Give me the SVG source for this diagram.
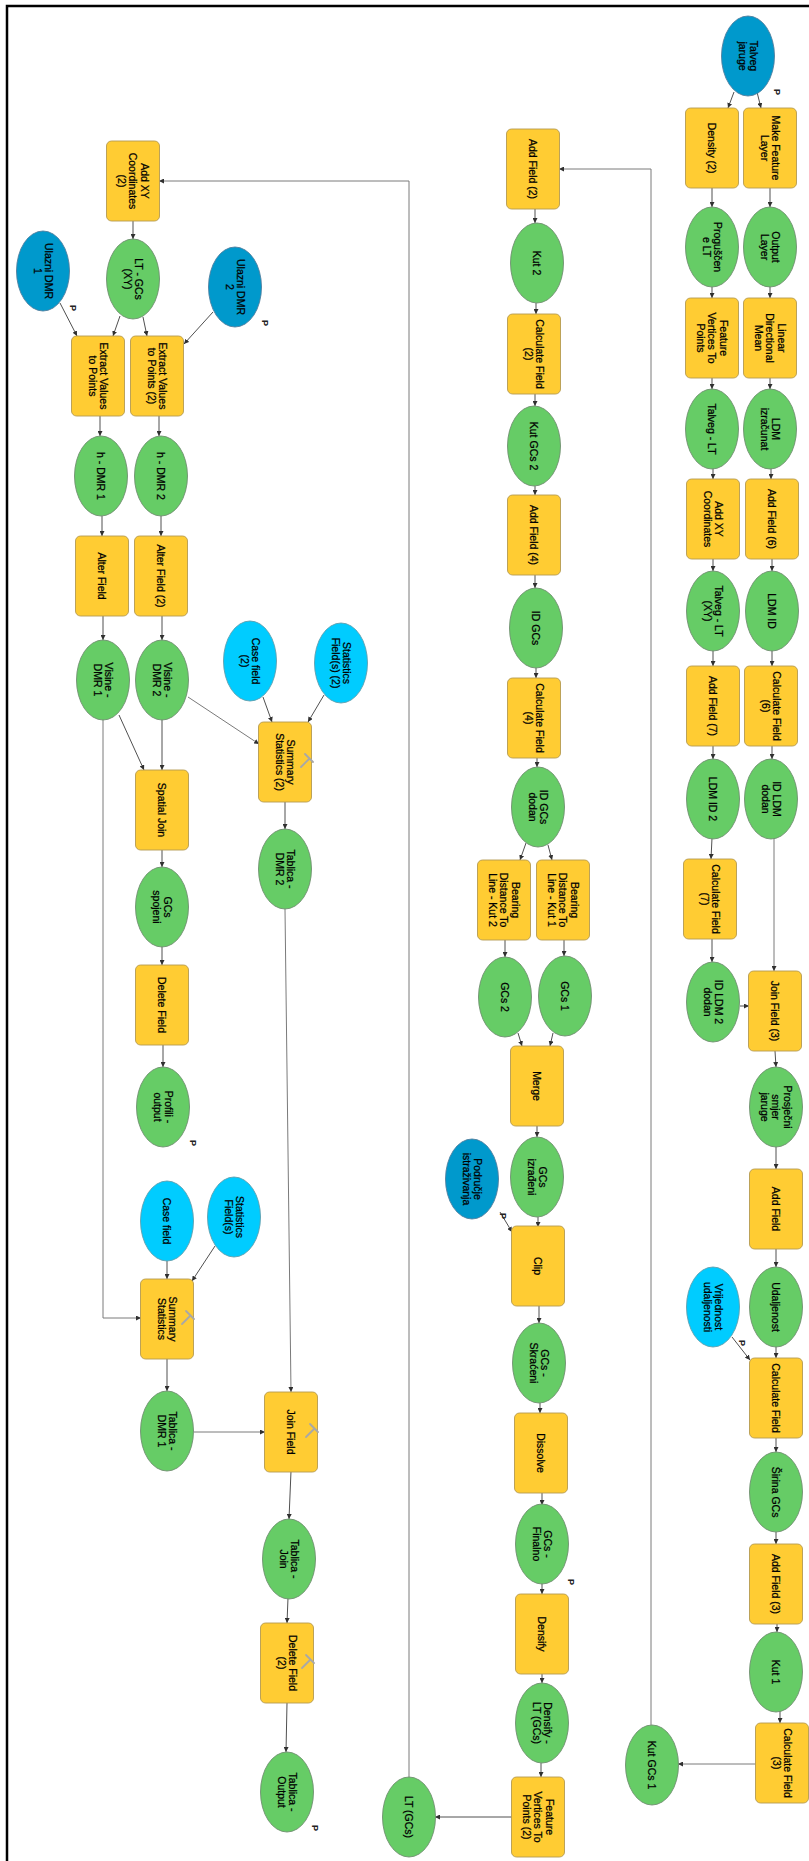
<svg xmlns="http://www.w3.org/2000/svg" width="809" height="1861" viewBox="0 0 809 1861">
<style>
.tool{fill:#FFCC33;stroke:#B49A50;stroke-width:0.9}
.data{fill:#66CC66;stroke:#6E8E6E;stroke-width:0.9}
.inp{fill:#0099CC;stroke:#4E7E9E;stroke-width:0.9}
.par{fill:#00CCFF;stroke:#5E9EAE;stroke-width:0.9}
.lbl{font-family:"Liberation Sans",Arial,sans-serif;font-size:10.5px;fill:#000;stroke:#000;stroke-width:0.25;text-anchor:middle}
.pl{font-family:"Liberation Sans",Arial,sans-serif;font-size:9px;font-weight:bold;fill:#222;text-anchor:middle}
.c path{fill:none;stroke:#505050;stroke-width:1;marker-end:url(#ah)}
.c path.g{stroke:#7a7a7a}
.ham{fill:none;stroke:#A8A8A8;stroke-width:1.8;stroke-linecap:round}
</style>
<defs>
<marker id="ah" viewBox="0 0 6 6" refX="6" refY="3" markerWidth="5" markerHeight="5" markerUnits="userSpaceOnUse" orient="auto">
<path d="M0,0 L6,3 L0,6 z" fill="#303030"/>
</marker>
</defs>
<rect width="809" height="1861" fill="#fff"/>
<path d="M7,1861 V6 H809" fill="none" stroke="#000" stroke-width="2.5"/>

<g class="c" id="connectors">
<path d="M734,92 L728,108"/>
<path d="M757,92 L761,108"/>
<path d="M712,188 V207"/>
<path d="M770,188 V207"/>
<path d="M712,287 V298"/>
<path d="M770,287 V298"/>
<path d="M712,378 V389"/>
<path d="M770,378 V389"/>
<path d="M713,468 V479"/>
<path d="M771,468 V479"/>
<path d="M713,559 V571"/>
<path d="M772,559 V571"/>
<path d="M713,650 V666"/>
<path d="M772,650 V666"/>
<path d="M713,746 V759"/>
<path d="M772,746 V759"/>
<path d="M712,838 L711,859"/>
<path class="g" d="M774,838 V971"/>
<path d="M712,939 V962"/>
<path d="M740,1006 H749"/>
<path d="M775,1051 L776,1067"/>
<path d="M776,1147 V1169"/>
<path d="M776,1249 V1267"/>
<path d="M776,1346 V1358"/>
<path d="M732,1337 L750,1360"/>
<path d="M776,1438 V1452"/>
<path d="M776,1532 V1544"/>
<path d="M777,1624 V1632"/>
<path d="M780,1711 V1723"/>
<path class="g" d="M756,1764 H678"/>
<path class="g" d="M651,1725 V169 H559"/>
<path d="M535,209 V223"/>
<path d="M536,303 V314"/>
<path d="M535,394 V406"/>
<path d="M535,486 V495"/>
<path d="M535,575 V588"/>
<path d="M536,668 V678"/>
<path d="M537,758 V767"/>
<path d="M526,843 L520,860"/>
<path d="M548,845 L552,860"/>
<path d="M505,939 V957"/>
<path d="M564,940 V956"/>
<path d="M518,1033 L522,1046"/>
<path d="M553,1033 L550,1046"/>
<path d="M537,1126 V1137"/>
<path d="M538,1217 V1227"/>
<path d="M500,1212 L512,1232"/>
<path d="M539,1306 V1323"/>
<path d="M540,1403 V1413"/>
<path d="M542,1493 V1505"/>
<path d="M542,1583 V1594"/>
<path d="M542,1674 V1683"/>
<path d="M541,1763 V1777"/>
<path d="M512,1817 H435"/>
<path class="g" d="M409,1778 V181 H159"/>
<path d="M133,221 V239"/>
<path d="M60,303 L77,336"/>
<path d="M120,316 L113,336"/>
<path d="M143,317 L147,336"/>
<path d="M213,312 L184,344"/>
<path d="M100,416 V436"/>
<path d="M159,416 V436"/>
<path d="M102,516 V536"/>
<path d="M161,516 V536"/>
<path d="M103,615 V640"/>
<path d="M162,615 V640"/>
<path d="M119,715 L144,770"/>
<path d="M162,719 V770"/>
<path class="g" d="M188,697 L259,744"/>
<path d="M263,697 L272,722"/>
<path d="M324,695 L308,722"/>
<path d="M285,802 V829"/>
<path d="M162,850 V867"/>
<path d="M162,946 V965"/>
<path d="M163,1045 V1067"/>
<path class="g" d="M103,719 V1318 H141"/>
<path d="M167,1261 V1279"/>
<path d="M215,1246 L192,1281"/>
<path class="g" d="M285,909 L291,1392"/>
<path d="M167,1359 V1391"/>
<path class="g" d="M194,1432 H265"/>
<path d="M291,1471 L289,1519"/>
<path d="M288,1598 L287,1623"/>
<path d="M287,1703 L286,1752"/>
</g>

<!-- Right column -->
<g id="talveg-jaruge" transform="translate(748,56)"><ellipse class="inp" rx="26.5" ry="40"/><text class="lbl" transform="rotate(90)"><tspan x="0" y="-2">Talveg</tspan><tspan x="0" y="9.5">jaruge</tspan></text></g>
<g id="density-2" transform="translate(712,148)"><rect class="tool" x="-26.5" y="-40" width="53" height="80" rx="5"/><text class="lbl" transform="rotate(90)"><tspan x="0" y="3.7">Density (2)</tspan></text></g>
<g id="make-feature-layer" transform="translate(770,148)"><rect class="tool" x="-26.5" y="-40" width="53" height="80" rx="5"/><text class="lbl" transform="rotate(90)"><tspan x="0" y="-2">Make Feature</tspan><tspan x="0" y="9.5">Layer</tspan></text></g>
<g id="progusceni-lt" transform="translate(712,247)"><ellipse class="data" rx="26.5" ry="40"/><text class="lbl" transform="rotate(90)"><tspan x="0" y="-2">Proguščen</tspan><tspan x="0" y="9.5">e LT</tspan></text></g>
<g id="output-layer" transform="translate(770,247)"><ellipse class="data" rx="26.5" ry="40"/><text class="lbl" transform="rotate(90)"><tspan x="0" y="-2">Output</tspan><tspan x="0" y="9.5">Layer</tspan></text></g>
<g id="fvtp" transform="translate(712,338)"><rect class="tool" x="-26.5" y="-40" width="53" height="80" rx="5"/><text class="lbl" transform="rotate(90)"><tspan x="0" y="-7.8">Feature</tspan><tspan x="0" y="3.7">Vertices To</tspan><tspan x="0" y="15.2">Points</tspan></text></g>
<g id="ldm" transform="translate(770,338)"><rect class="tool" x="-26.5" y="-40" width="53" height="80" rx="5"/><text class="lbl" transform="rotate(90)"><tspan x="0" y="-7.8">Linear</tspan><tspan x="0" y="3.7">Directional</tspan><tspan x="0" y="15.2">Mean</tspan></text></g>
<g id="talveg-lt" transform="translate(712,429)"><ellipse class="data" rx="26.5" ry="40"/><text class="lbl" transform="rotate(90)"><tspan x="0" y="3.7">Talveg - LT</tspan></text></g>
<g id="ldm-izracunat" transform="translate(770,429)"><ellipse class="data" rx="26.5" ry="40"/><text class="lbl" transform="rotate(90)"><tspan x="0" y="-2">LDM</tspan><tspan x="0" y="9.5">izračunat</tspan></text></g>
<g id="add-xy" transform="translate(713,519)"><rect class="tool" x="-26.5" y="-40" width="53" height="80" rx="5"/><text class="lbl" transform="rotate(90)"><tspan x="0" y="-2">Add XY</tspan><tspan x="0" y="9.5">Coordinates</tspan></text></g>
<g id="add-field-6" transform="translate(772,519)"><rect class="tool" x="-26.5" y="-40" width="53" height="80" rx="5"/><text class="lbl" transform="rotate(90)"><tspan x="0" y="3.7">Add Field (6)</tspan></text></g>
<g id="talveg-lt-xy" transform="translate(713,611)"><ellipse class="data" rx="26.5" ry="40"/><text class="lbl" transform="rotate(90)"><tspan x="0" y="-2">Talveg - LT</tspan><tspan x="0" y="9.5">(XY)</tspan></text></g>
<g id="ldm-id" transform="translate(772,611)"><ellipse class="data" rx="26.5" ry="40"/><text class="lbl" transform="rotate(90)"><tspan x="0" y="3.7">LDM ID</tspan></text></g>
<g id="add-field-7" transform="translate(713,706)"><rect class="tool" x="-26.5" y="-40" width="53" height="80" rx="5"/><text class="lbl" transform="rotate(90)"><tspan x="0" y="3.7">Add Field (7)</tspan></text></g>
<g id="calc-field-6" transform="translate(771,706)"><rect class="tool" x="-26.5" y="-40" width="53" height="80" rx="5"/><text class="lbl" transform="rotate(90)"><tspan x="0" y="-2">Calculate Field</tspan><tspan x="0" y="9.5">(6)</tspan></text></g>
<g id="ldm-id-2" transform="translate(713,799)"><ellipse class="data" rx="26.5" ry="40"/><text class="lbl" transform="rotate(90)"><tspan x="0" y="3.7">LDM ID 2</tspan></text></g>
<g id="id-ldm-dodan" transform="translate(771,799)"><ellipse class="data" rx="26.5" ry="40"/><text class="lbl" transform="rotate(90)"><tspan x="0" y="-2">ID LDM</tspan><tspan x="0" y="9.5">dodan</tspan></text></g>
<g id="calc-field-7" transform="translate(710,899)"><rect class="tool" x="-26.5" y="-40" width="53" height="80" rx="5"/><text class="lbl" transform="rotate(90)"><tspan x="0" y="-2">Calculate Field</tspan><tspan x="0" y="9.5">(7)</tspan></text></g>
<g id="id-ldm-2-dodan" transform="translate(713,1002)"><ellipse class="data" rx="26.5" ry="40"/><text class="lbl" transform="rotate(90)"><tspan x="0" y="-2">ID LDM 2</tspan><tspan x="0" y="9.5">dodan</tspan></text></g>
<g id="join-field-3" transform="translate(775,1011)"><rect class="tool" x="-26.5" y="-40" width="53" height="80" rx="5"/><text class="lbl" transform="rotate(90)"><tspan x="0" y="3.7">Join Field (3)</tspan></text></g>
<g id="prosjecni" transform="translate(776,1107)"><ellipse class="data" rx="26.5" ry="40"/><text class="lbl" transform="rotate(90)"><tspan x="0" y="-7.8">Prosječni</tspan><tspan x="0" y="3.7">smjer</tspan><tspan x="0" y="15.2">jaruge</tspan></text></g>
<g id="add-field" transform="translate(776,1209)"><rect class="tool" x="-26.5" y="-40" width="53" height="80" rx="5"/><text class="lbl" transform="rotate(90)"><tspan x="0" y="3.7">Add Field</tspan></text></g>
<g id="udaljenost" transform="translate(776,1307)"><ellipse class="data" rx="26.5" ry="40"/><text class="lbl" transform="rotate(90)"><tspan x="0" y="3.7">Udaljenost</tspan></text></g>
<g id="vrijednost" transform="translate(713,1307)"><ellipse class="par" rx="26.5" ry="40"/><text class="lbl" transform="rotate(90)"><tspan x="0" y="-2">Vrijednost</tspan><tspan x="0" y="9.5">udaljenosti</tspan></text></g>
<g id="calc-field" transform="translate(776,1398)"><rect class="tool" x="-26.5" y="-40" width="53" height="80" rx="5"/><text class="lbl" transform="rotate(90)"><tspan x="0" y="3.7">Calculate Field</tspan></text></g>
<g id="sirina-gcs" transform="translate(776,1492)"><ellipse class="data" rx="26.5" ry="40"/><text class="lbl" transform="rotate(90)"><tspan x="0" y="3.7">Širina GCs</tspan></text></g>
<g id="add-field-3" transform="translate(776,1584)"><rect class="tool" x="-26.5" y="-40" width="53" height="80" rx="5"/><text class="lbl" transform="rotate(90)"><tspan x="0" y="3.7">Add Field (3)</tspan></text></g>
<g id="kut-1" transform="translate(776,1672)"><ellipse class="data" rx="26.5" ry="40"/><text class="lbl" transform="rotate(90)"><tspan x="0" y="3.7">Kut 1</tspan></text></g>
<g id="calc-field-3" transform="translate(782,1763)"><rect class="tool" x="-26.5" y="-40" width="53" height="80" rx="5"/><text class="lbl" transform="rotate(90)"><tspan x="0" y="-2">Calculate Field</tspan><tspan x="0" y="9.5">(3)</tspan></text></g>
<g id="kut-gcs-1" transform="translate(652,1765)"><ellipse class="data" rx="26.5" ry="40"/><text class="lbl" transform="rotate(90)"><tspan x="0" y="3.7">Kut GCs 1</tspan></text></g>

<!-- Middle column -->
<g id="add-field-2" transform="translate(533,169)"><rect class="tool" x="-26.5" y="-40" width="53" height="80" rx="5"/><text class="lbl" transform="rotate(90)"><tspan x="0" y="3.7">Add Field (2)</tspan></text></g>
<g id="kut-2" transform="translate(537,263)"><ellipse class="data" rx="26.5" ry="40"/><text class="lbl" transform="rotate(90)"><tspan x="0" y="3.7">Kut 2</tspan></text></g>
<g id="calc-field-2" transform="translate(534,354)"><rect class="tool" x="-26.5" y="-40" width="53" height="80" rx="5"/><text class="lbl" transform="rotate(90)"><tspan x="0" y="-2">Calculate Field</tspan><tspan x="0" y="9.5">(2)</tspan></text></g>
<g id="kut-gcs-2" transform="translate(534,446)"><ellipse class="data" rx="26.5" ry="40"/><text class="lbl" transform="rotate(90)"><tspan x="0" y="3.7">Kut GCs 2</tspan></text></g>
<g id="add-field-4" transform="translate(534,535)"><rect class="tool" x="-26.5" y="-40" width="53" height="80" rx="5"/><text class="lbl" transform="rotate(90)"><tspan x="0" y="3.7">Add Field (4)</tspan></text></g>
<g id="id-gcs" transform="translate(536,628)"><ellipse class="data" rx="26.5" ry="40"/><text class="lbl" transform="rotate(90)"><tspan x="0" y="3.7">ID GCs</tspan></text></g>
<g id="calc-field-4" transform="translate(534,718)"><rect class="tool" x="-26.5" y="-40" width="53" height="80" rx="5"/><text class="lbl" transform="rotate(90)"><tspan x="0" y="-2">Calculate Field</tspan><tspan x="0" y="9.5">(4)</tspan></text></g>
<g id="id-gcs-dodan" transform="translate(538,807)"><ellipse class="data" rx="26.5" ry="40"/><text class="lbl" transform="rotate(90)"><tspan x="0" y="-2">ID GCs</tspan><tspan x="0" y="9.5">dodan</tspan></text></g>
<g id="bdtl-kut-2" transform="translate(504,900)"><rect class="tool" x="-26.5" y="-40" width="53" height="80" rx="5"/><text class="lbl" transform="rotate(90)"><tspan x="0" y="-7.8">Bearing</tspan><tspan x="0" y="3.7">Distance To</tspan><tspan x="0" y="15.2">Line - Kut 2</tspan></text></g>
<g id="bdtl-kut-1" transform="translate(563,900)"><rect class="tool" x="-26.5" y="-40" width="53" height="80" rx="5"/><text class="lbl" transform="rotate(90)"><tspan x="0" y="-7.8">Bearing</tspan><tspan x="0" y="3.7">Distance To</tspan><tspan x="0" y="15.2">Line - Kut 1</tspan></text></g>
<g id="gcs-2" transform="translate(505,997)"><ellipse class="data" rx="26.5" ry="40"/><text class="lbl" transform="rotate(90)"><tspan x="0" y="3.7">GCs 2</tspan></text></g>
<g id="gcs-1" transform="translate(565,996)"><ellipse class="data" rx="26.5" ry="40"/><text class="lbl" transform="rotate(90)"><tspan x="0" y="3.7">GCs 1</tspan></text></g>
<g id="merge" transform="translate(537,1086)"><rect class="tool" x="-26.5" y="-40" width="53" height="80" rx="5"/><text class="lbl" transform="rotate(90)"><tspan x="0" y="3.7">Merge</tspan></text></g>
<g id="gcs-izradeni" transform="translate(537,1177)"><ellipse class="data" rx="26.5" ry="40"/><text class="lbl" transform="rotate(90)"><tspan x="0" y="-2">GCs</tspan><tspan x="0" y="9.5">izrađeni</tspan></text></g>
<g id="podrucje" transform="translate(472,1179)"><ellipse class="inp" rx="26.5" ry="40"/><text class="lbl" transform="rotate(90)"><tspan x="0" y="-2">Područje</tspan><tspan x="0" y="9.5">istraživanja</tspan></text></g>
<g id="clip" transform="translate(538,1266)"><rect class="tool" x="-26.5" y="-40" width="53" height="80" rx="5"/><text class="lbl" transform="rotate(90)"><tspan x="0" y="3.7">Clip</tspan></text></g>
<g id="gcs-skraceni" transform="translate(539,1363)"><ellipse class="data" rx="26.5" ry="40"/><text class="lbl" transform="rotate(90)"><tspan x="0" y="-2">GCs -</tspan><tspan x="0" y="9.5">Skraćeni</tspan></text></g>
<g id="dissolve" transform="translate(541,1453)"><rect class="tool" x="-26.5" y="-40" width="53" height="80" rx="5"/><text class="lbl" transform="rotate(90)"><tspan x="0" y="3.7">Dissolve</tspan></text></g>
<g id="gcs-finalno" transform="translate(542,1544)"><ellipse class="data" rx="26.5" ry="40"/><text class="lbl" transform="rotate(90)"><tspan x="0" y="-2">GCs -</tspan><tspan x="0" y="9.5">Finalno</tspan></text></g>
<g id="densify" transform="translate(542,1634)"><rect class="tool" x="-26.5" y="-40" width="53" height="80" rx="5"/><text class="lbl" transform="rotate(90)"><tspan x="0" y="3.7">Densify</tspan></text></g>
<g id="densify-lt" transform="translate(542,1723)"><ellipse class="data" rx="26.5" ry="40"/><text class="lbl" transform="rotate(90)"><tspan x="0" y="-2">Densify -</tspan><tspan x="0" y="9.5">LT (GCs)</tspan></text></g>
<g id="fvtp-2" transform="translate(538,1817)"><rect class="tool" x="-26.5" y="-40" width="53" height="80" rx="5"/><text class="lbl" transform="rotate(90)"><tspan x="0" y="-7.8">Feature</tspan><tspan x="0" y="3.7">Vertices To</tspan><tspan x="0" y="15.2">Points (2)</tspan></text></g>
<g id="lt-gcs" transform="translate(409,1817)"><ellipse class="data" rx="26.5" ry="40"/><text class="lbl" transform="rotate(90)"><tspan x="0" y="3.7">LT (GCs)</tspan></text></g>

<!-- Left column -->
<g id="add-xy-2" transform="translate(133,181)"><rect class="tool" x="-26.5" y="-40" width="53" height="80" rx="5"/><text class="lbl" transform="rotate(90)"><tspan x="0" y="-7.8">Add XY</tspan><tspan x="0" y="3.7">Coordinates</tspan><tspan x="0" y="15.2">(2)</tspan></text></g>
<g id="lt-gcs-xy" transform="translate(133,279)"><ellipse class="data" rx="26.5" ry="40"/><text class="lbl" transform="rotate(90)"><tspan x="0" y="-2">LT - GCs</tspan><tspan x="0" y="9.5">(XY)</tspan></text></g>
<g id="ulazni-dmr-1" transform="translate(43,271)"><ellipse class="inp" rx="26.5" ry="40"/><text class="lbl" transform="rotate(90)"><tspan x="0" y="-2">Ulazni DMR</tspan><tspan x="0" y="9.5">1</tspan></text></g>
<g id="ulazni-dmr-2" transform="translate(235,287)"><ellipse class="inp" rx="26.5" ry="40"/><text class="lbl" transform="rotate(90)"><tspan x="0" y="-2">Ulazni DMR</tspan><tspan x="0" y="9.5">2</tspan></text></g>
<g id="evp" transform="translate(98,376)"><rect class="tool" x="-26.5" y="-40" width="53" height="80" rx="5"/><text class="lbl" transform="rotate(90)"><tspan x="0" y="-2">Extract Values</tspan><tspan x="0" y="9.5">to Points</tspan></text></g>
<g id="evp-2" transform="translate(157,376)"><rect class="tool" x="-26.5" y="-40" width="53" height="80" rx="5"/><text class="lbl" transform="rotate(90)"><tspan x="0" y="-2">Extract Values</tspan><tspan x="0" y="9.5">to Points (2)</tspan></text></g>
<g id="h-dmr-1" transform="translate(101,476)"><ellipse class="data" rx="26.5" ry="40"/><text class="lbl" transform="rotate(90)"><tspan x="0" y="3.7">h - DMR 1</tspan></text></g>
<g id="h-dmr-2" transform="translate(161,476)"><ellipse class="data" rx="26.5" ry="40"/><text class="lbl" transform="rotate(90)"><tspan x="0" y="3.7">h - DMR 2</tspan></text></g>
<g id="alter-field" transform="translate(102,576)"><rect class="tool" x="-26.5" y="-40" width="53" height="80" rx="5"/><text class="lbl" transform="rotate(90)"><tspan x="0" y="3.7">Alter Field</tspan></text></g>
<g id="alter-field-2" transform="translate(161,576)"><rect class="tool" x="-26.5" y="-40" width="53" height="80" rx="5"/><text class="lbl" transform="rotate(90)"><tspan x="0" y="3.7">Alter Field (2)</tspan></text></g>
<g id="visine-dmr-1" transform="translate(103,680)"><ellipse class="data" rx="26.5" ry="40"/><text class="lbl" transform="rotate(90)"><tspan x="0" y="-2">Visine -</tspan><tspan x="0" y="9.5">DMR 1</tspan></text></g>
<g id="visine-dmr-2" transform="translate(162,680)"><ellipse class="data" rx="26.5" ry="40"/><text class="lbl" transform="rotate(90)"><tspan x="0" y="-2">Visine -</tspan><tspan x="0" y="9.5">DMR 2</tspan></text></g>
<g id="case-field-2" transform="translate(250,661)"><ellipse class="par" rx="26.5" ry="40"/><text class="lbl" transform="rotate(90)"><tspan x="0" y="-2">Case field</tspan><tspan x="0" y="9.5">(2)</tspan></text></g>
<g id="stat-fields-2" transform="translate(341,663)"><ellipse class="par" rx="26.5" ry="40"/><text class="lbl" transform="rotate(90)"><tspan x="0" y="-2">Statistics</tspan><tspan x="0" y="9.5">Field(s) (2)</tspan></text></g>
<g id="summary-stats-2" transform="translate(285,762)"><rect class="tool" x="-26.5" y="-40" width="53" height="80" rx="5"/><text class="lbl" transform="rotate(90)"><tspan x="0" y="-2">Summary</tspan><tspan x="0" y="9.5">Statistics (2)</tspan></text><path class="ham" d="M16,5 L24,-3 M20,-8 L28,0"/></g>
<g id="spatial-join" transform="translate(162,810)"><rect class="tool" x="-26.5" y="-40" width="53" height="80" rx="5"/><text class="lbl" transform="rotate(90)"><tspan x="0" y="3.7">Spatial Join</tspan></text></g>
<g id="gcs-spojeni" transform="translate(162,907)"><ellipse class="data" rx="26.5" ry="40"/><text class="lbl" transform="rotate(90)"><tspan x="0" y="-2">GCs</tspan><tspan x="0" y="9.5">spojeni</tspan></text></g>
<g id="tablica-dmr-2" transform="translate(285,869)"><ellipse class="data" rx="26.5" ry="40"/><text class="lbl" transform="rotate(90)"><tspan x="0" y="-2">Tablica -</tspan><tspan x="0" y="9.5">DMR 2</tspan></text></g>
<g id="delete-field" transform="translate(162,1005)"><rect class="tool" x="-26.5" y="-40" width="53" height="80" rx="5"/><text class="lbl" transform="rotate(90)"><tspan x="0" y="3.7">Delete Field</tspan></text></g>
<g id="profili-output" transform="translate(163,1107)"><ellipse class="data" rx="26.5" ry="40"/><text class="lbl" transform="rotate(90)"><tspan x="0" y="-2">Profili -</tspan><tspan x="0" y="9.5">output</tspan></text></g>
<g id="case-field" transform="translate(167,1221)"><ellipse class="par" rx="26.5" ry="40"/><text class="lbl" transform="rotate(90)"><tspan x="0" y="3.7">Case field</tspan></text></g>
<g id="stat-fields" transform="translate(234,1217)"><ellipse class="par" rx="26.5" ry="40"/><text class="lbl" transform="rotate(90)"><tspan x="0" y="-2">Statistics</tspan><tspan x="0" y="9.5">Field(s)</tspan></text></g>
<g id="summary-stats" transform="translate(167,1319)"><rect class="tool" x="-26.5" y="-40" width="53" height="80" rx="5"/><text class="lbl" transform="rotate(90)"><tspan x="0" y="-2">Summary</tspan><tspan x="0" y="9.5">Statistics</tspan></text><path class="ham" d="M15,5 L23,-3 M19,-8 L27,0"/></g>
<g id="tablica-dmr-1" transform="translate(167,1431)"><ellipse class="data" rx="26.5" ry="40"/><text class="lbl" transform="rotate(90)"><tspan x="0" y="-2">Tablica -</tspan><tspan x="0" y="9.5">DMR 1</tspan></text></g>
<g id="join-field" transform="translate(291,1432)"><rect class="tool" x="-26.5" y="-40" width="53" height="80" rx="5"/><text class="lbl" transform="rotate(90)"><tspan x="0" y="3.7">Join Field</tspan></text><path class="ham" d="M15,5 L23,-3 M19,-8 L27,0"/></g>
<g id="tablica-join" transform="translate(289,1559)"><ellipse class="data" rx="26.5" ry="40"/><text class="lbl" transform="rotate(90)"><tspan x="0" y="-2">Tablica -</tspan><tspan x="0" y="9.5">Join</tspan></text></g>
<g id="delete-field-2" transform="translate(287,1663)"><rect class="tool" x="-26.5" y="-40" width="53" height="80" rx="5"/><text class="lbl" transform="rotate(90)"><tspan x="0" y="-2">Delete Field</tspan><tspan x="0" y="9.5">(2)</tspan></text><path class="ham" d="M15,5 L23,-3 M19,-8 L27,0"/></g>
<g id="tablica-output" transform="translate(287,1792)"><ellipse class="data" rx="26.5" ry="40"/><text class="lbl" transform="rotate(90)"><tspan x="0" y="-2">Tablica -</tspan><tspan x="0" y="9.5">Output</tspan></text></g>

<g id="p-labels">
<text class="pl" transform="translate(777,92) rotate(90)" y="3">P</text>
<text class="pl" transform="translate(73,308) rotate(90)" y="3">P</text>
<text class="pl" transform="translate(265,323) rotate(90)" y="3">P</text>
<text class="pl" transform="translate(193,1143) rotate(90)" y="3">P</text>
<text class="pl" transform="translate(315,1828) rotate(90)" y="3">P</text>
<text class="pl" transform="translate(571,1582) rotate(90)" y="3">P</text>
<text class="pl" transform="translate(503,1216) rotate(90)" y="3">P</text>
<text class="pl" transform="translate(742,1343) rotate(90)" y="3">P</text>
</g>
</svg>
